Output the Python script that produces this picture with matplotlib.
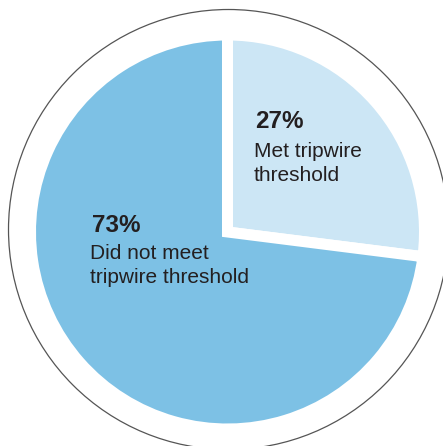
import matplotlib.pyplot as plt
from matplotlib.patches import Circle

# data
shares = [27, 73]
labels = ["Met tripwire\nthreshold", "Did not meet\ntripwire threshold"]
colors = ["#cce6f5", "#7dc1e5"]

W, H = 443, 446

def py(y):
    # pixel row (from top) -> data y
    return H - y

fig = plt.figure(figsize=(W / 100, H / 100), dpi=100)
ax = fig.add_axes([0, 0, 1, 1])

# outer thin ring
ax.add_patch(Circle((228.5, py(229.5)), 220, facecolor="none",
                    edgecolor="#555555", linewidth=0.9))

gap = 11  # white gap between wedges, in px
ax.pie(shares, colors=colors, startangle=90, counterclock=False,
       center=(227.5, py(232)), radius=191.5 + gap / 2,
       wedgeprops=dict(edgecolor="white", linewidth=gap * 0.72,
                       joinstyle="miter"),
       frame=True)

ax.set_xlim(0, W)
ax.set_ylim(0, H)
ax.set_aspect("equal")
ax.axis("off")

font = "Liberation Sans"
txt = "#231f20"
# (pct x, pct baseline, label x, baseline of last label line)
pos = [(255, 128, 254, 181), (92, 232, 90, 283)]
for v, lab, (bx, by, lx, ly) in zip(shares, labels, pos):
    ax.text(bx, py(by), f"{v}%", fontsize=17.5, fontweight="bold",
            family=font, color=txt, va="baseline", ha="left")
    ax.text(lx, py(ly), lab, fontsize=15, family=font, color=txt,
            va="baseline", ha="left", linespacing=1.32)

fig.savefig("out.png", dpi=100, facecolor="white")
